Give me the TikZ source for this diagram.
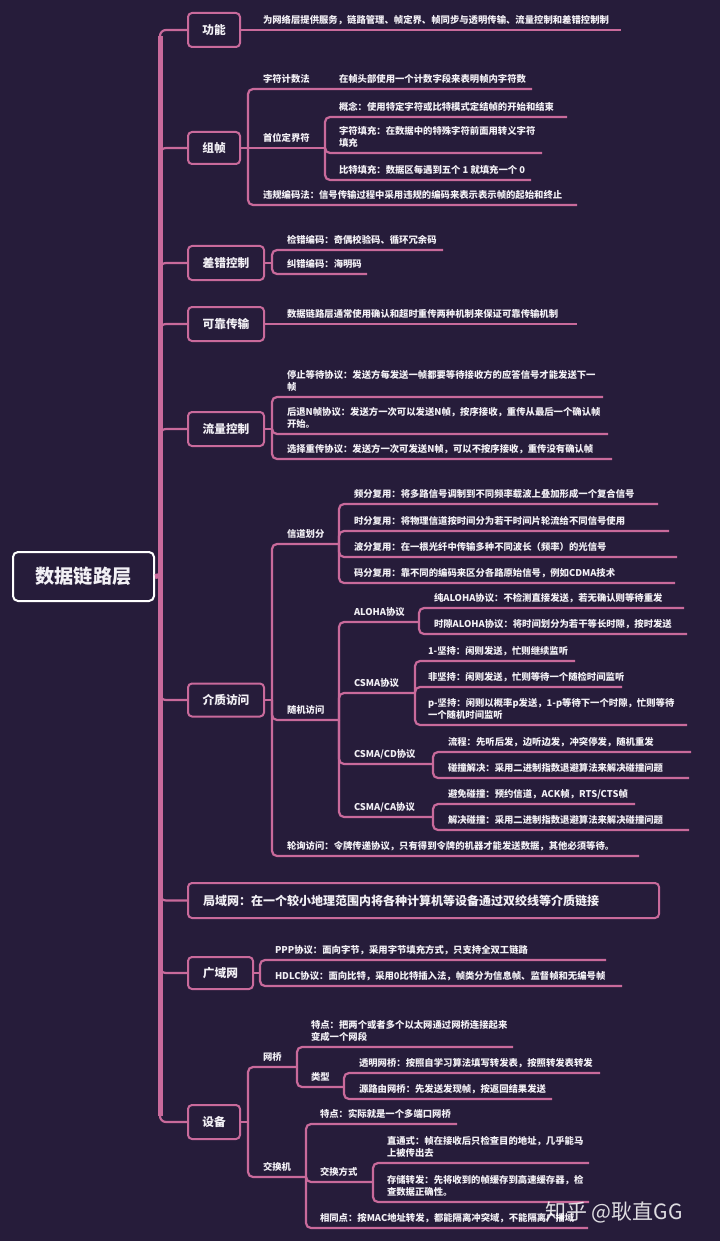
\documentclass[tikz,border=0pt]{standalone}
\usepackage{fontspec}
\setmainfont{Noto Sans CJK SC}
\definecolor{bg}{RGB}{38,28,58}
\definecolor{pk}{RGB}{201,106,155}
\definecolor{tx}{RGB}{242,240,245}
\tikzset{
 link/.style={draw=pk, line width=2.2pt, rounded corners=5pt},
 spine/.style={draw=pk, line width=5pt},
 leaf/.style={anchor=base west, inner sep=0pt, outer sep=0pt, text=tx, font=\bfseries\fontsize{9.35}{12.6}\selectfont, align=left},
 topic/.style={draw=pk, line width=2pt, rounded corners=4pt, fill=bg, text=tx, font=\bfseries\fontsize{11.7}{14}\selectfont, anchor=west, inner sep=0pt},
 rootbox/.style={draw=white, line width=2pt, rounded corners=5pt, fill=bg, text=tx, font=\bfseries\fontsize{19.2}{22}\selectfont, inner sep=0pt, minimum width=141pt, minimum height=49pt},
}
% leaf text sits above its underline; the base anchor is the last line's baseline
\newcommand\lf[6]{%
 \coordinate (#1e) at (#5,#4);
 \node[leaf] (#1) at (#3,#4-6.3) {#6};
 \draw[link] (#2) |- (#1e);}
\begin{document}
\begin{tikzpicture}[x=1pt,y=-1pt]
\fill[bg] (0,0) rectangle (720,1241);
\useasboundingbox (0,0) rectangle (720,1241);

% root and topics
\node[rootbox, anchor=north west] (root) at (12,551) {数据链路层};
\coordinate (rj) at (160,575.5);
\node[topic, minimum width=52pt, minimum height=34pt] (f1) at (187,30) {功能};
\node[topic, minimum width=52pt, minimum height=32pt] (f2) at (187,148) {组帧};
\node[topic, minimum width=76pt, minimum height=34pt] (f3) at (187,263) {差错控制};
\node[topic, minimum width=76pt, minimum height=34pt] (f4) at (187,324) {可靠传输};
\node[topic, minimum width=76pt, minimum height=34pt] (f5) at (187,429) {流量控制};
\node[topic, minimum width=76pt, minimum height=33pt] (f6) at (187,700) {介质访问};
\node[topic, minimum height=35pt, text width=441pt, inner xsep=15pt, align=left, font=\bfseries\fontsize{12}{14}\selectfont] (f7) at (187,900.5) {局域网：在一个较小地理范围内将各种计算机等设备通过双绞线等介质链接};
\node[topic, minimum width=65pt, minimum height=32pt] (f8) at (187,973) {广域网};
\node[topic, minimum width=52pt, minimum height=34pt] (f9) at (187,1122) {设备};

% spine
\foreach \f in {f1,f2,f3,f4,f5,f6,f7,f8,f9} {\draw[link, rounded corners=6pt] (rj) |- (\f.west);}
\draw[spine] (160,36) -- (160,1116);
\draw[spine] (root.east) -- (rj);

% 功能
\coordinate (g1e) at (621,30);
\node[leaf] (g1) at (263,30-6.3) {为网络层提供服务，链路管理、帧定界、帧同步与透明传输、流量控制和差错控制制};
\draw[link] (f1.east) -- (g1e);

% 组帧
\draw[link] (f2.east) -- (248,148) coordinate (f2j);
\lf{a1}{f2j}{263}{89}{532}{字符计数法}
\node[leaf] (a1c) at (339,89-6.3) {在帧头部使用一个计数字段来表明帧内字符数};
\draw[link] (f2j) -- (325,148) coordinate (a2e);
\node[leaf] (a2) at (263,148-6.3) {首位定界符};
\lf{b1}{a2e}{339}{117}{567}{概念：使用特定字符或比特模式定结帧的开始和结束}
\lf{b2}{a2e}{339}{153}{542}{字符填充：在数据中的特殊字符前面用转义字符\\填充}
\lf{b3}{a2e}{339}{180}{531}{比特填充：数据区每遇到五个 1 就填充一个 0}
\lf{a3}{f2j}{263}{205}{577}{违规编码法：信号传输过程中采用违规的编码来表示表示帧的起始和终止}

% 差错控制
\draw[link] (f3.east) -- (272,263) coordinate (f3j);
\lf{c1}{f3j}{287}{250}{443}{检错编码：奇偶校验码、循环冗余码}
\lf{c2}{f3j}{287}{274}{367}{纠错编码：海明码}

% 可靠传输
\coordinate (d1e) at (577,324);
\node[leaf] (d1) at (287,324-6.3) {数据链路层通常使用确认和超时重传两种机制来保证可靠传输机制};
\draw[link] (f4.east) -- (d1e);

% 流量控制
\draw[link] (f5.east) -- (272,429) coordinate (f5j);
\lf{e1}{f5j}{287}{397}{603}{停止等待协议：发送方每发送一帧都要等待接收方的应答信号才能发送下一\\帧}
\lf{e2}{f5j}{287}{434}{608}{后退N帧协议：发送方一次可以发送N帧，按序接收，重传从最后一个确认帧\\开始。}
\lf{e3}{f5j}{287}{459}{612}{选择重传协议：发送方一次可发送N帧，可以不按序接收，重传没有确认帧}

% 介质访问
\draw[link] (f6.east) -- (272,700) coordinate (f6j);
\lf{m1}{f6j}{287}{544}{339}{信道划分}
\lf{mA}{m1e}{354}{504}{658}{频分复用：将多路信号调制到不同频率载波上叠加形成一个复合信号}
\lf{mB}{m1e}{354}{531}{669}{时分复用：将物理信道按时间分为若干时间片轮流给不同信号使用}
\lf{mC}{m1e}{354}{557}{677}{波分复用：在一根光纤中传输多种不同波长（频率）的光信号}
\lf{mD}{m1e}{354}{583}{675}{码分复用：靠不同的编码来区分各路原始信号，例如CDMA技术}
\lf{m2}{f6j}{287}{720}{339}{随机访问}
\lf{ra}{m2e}{354}{622}{419}{ALOHA协议}
\lf{raA}{rae}{434}{608}{684}{纯ALOHA协议：不检测直接发送，若无确认则等待重发}
\lf{raB}{rae}{434}{634}{687}{时隙ALOHA协议：将时间划分为若干等长时隙，按时发送}
\lf{rb}{m2e}{354}{693}{415}{CSMA协议}
\lf{rbA}{rbe}{428}{661}{575}{1-坚持：闲则发送，忙则继续监听}
\lf{rbB}{rbe}{428}{687}{622}{非坚持：闲则发送，忙则等待一个随检时间监听}
\lf{rbC}{rbe}{428}{725}{687}{p-坚持：闲则以概率p发送，1-p等待下一个时隙，忙则等待\\一个随机时间监听}
\lf{rc}{m2e}{354}{764}{433}{CSMA/CD协议}
\lf{rcA}{rce}{448}{752}{691}{流程：先听后发，边听边发，冲突停发，随机重发}
\lf{rcB}{rce}{448}{778}{689}{碰撞解决：采用二进制指数退避算法来解决碰撞问题}
\lf{rd}{m2e}{354}{817}{433}{CSMA/CA协议}
\lf{rdA}{rde}{448}{804}{635}{避免碰撞：预约信道，ACK帧，RTS/CTS帧}
\lf{rdB}{rde}{448}{830}{689}{解决碰撞：采用二进制指数退避算法来解决碰撞问题}
\lf{m3}{f6j}{287}{856}{639}{轮询访问：令牌传递协议，只有得到令牌的机器才能发送数据，其他必须等待。}

% 广域网
\draw[link] (f8.east) -- (260,973) coordinate (f8j);
\lf{w1}{f8j}{275}{960}{606}{PPP协议：面向字节，采用字节填充方式，只支持全双工链路}
\lf{w2}{f8j}{275}{986}{622}{HDLC协议：面向比特，采用0比特插入法，帧类分为信息帧、监督帧和无编号帧}

% 设备
\draw[link] (f9.east) -- (248,1122) coordinate (f9j);
\lf{s1}{f9j}{263}{1067}{297}{网桥}
\lf{sA}{s1e}{311}{1047}{513}{特点：把两个或者多个以太网通过网桥连接起来\\变成一个网段}
\lf{sB}{s1e}{311}{1087}{344}{类型}
\lf{sBa}{sBe}{359}{1073}{600}{透明网桥：按照自学习算法填写转发表，按照转发表转发}
\lf{sBb}{sBe}{359}{1099}{552}{源路由网桥：先发送发现帧，按返回结果发送}
\lf{s2}{f9j}{263}{1177}{306}{交换机}
\lf{tA}{s2e}{320}{1124}{457}{特点：实际就是一个多端口网桥}
\lf{tB}{s2e}{320}{1182}{373}{交换方式}
\lf{tBa}{tBe}{387}{1163}{589}{直通式：帧在接收后只检查目的地址，几乎能马\\上被传出去}
\lf{tBb}{tBe}{387}{1202}{589}{存储转发：先将收到的帧缓存到高速缓存器，检\\查数据正确性。}
\lf{tC}{s2e}{320}{1228}{588}{相同点：按MAC地址转发，都能隔离冲突域，不能隔离广播域}

% watermark
\node[anchor=west, inner sep=0pt, text=white, opacity=0.85, font=\fontsize{21}{24}\selectfont] (wm) at (545,1212) {知乎 @耿直GG};
\end{tikzpicture}
\end{document}
